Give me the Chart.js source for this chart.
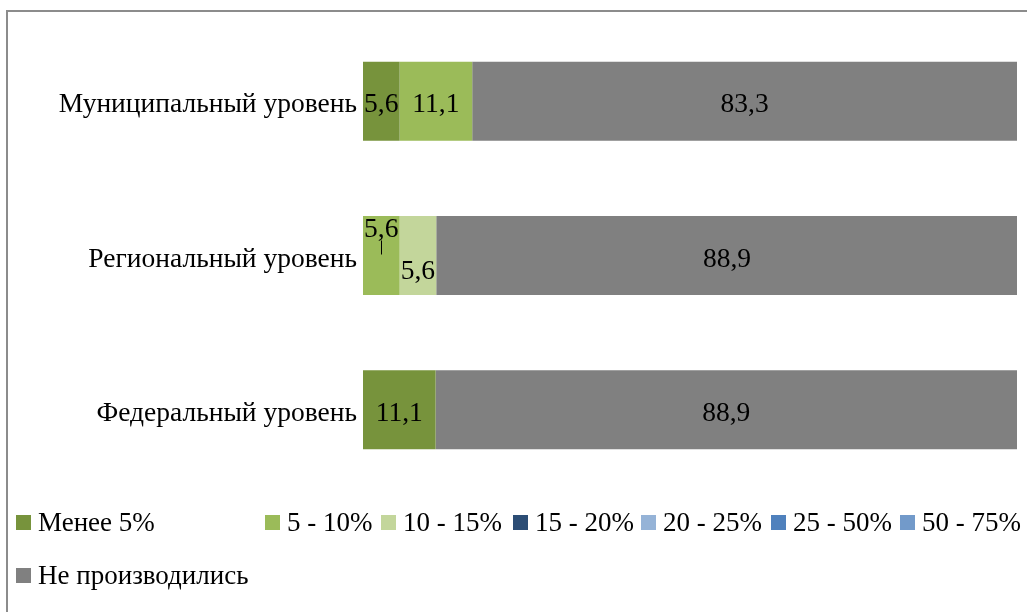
<!DOCTYPE html>
<html>
<head>
<meta charset="utf-8">
<script src="https://cdn.jsdelivr.net/npm/chart.js@4.4.1/dist/chart.umd.min.js"></script>
<style>
    html, body { margin: 0; padding: 0; background: #fff; }
    #wrap { position: relative; width: 1027px; height: 612px; overflow: hidden; }
    #frame { position: absolute; left: 6px; top: 10px; width: 1100px; height: 700px;
             border-left: 2px solid #8c8c8c; border-top: 2px solid #8c8c8c; }
    canvas { position: absolute; left: 0; top: 0; }
    .lg { position: absolute; font-family: "Liberation Serif", serif; font-size: 27px; color: #000;
          white-space: nowrap; line-height: 30px; }
    .lg i { position: absolute; left: -22px; top: 8px; width: 15px; height: 15px; }
</style>
</head>
<body>
<div id="wrap">
    <div id="frame"></div>
    <canvas id="chart" width="1027" height="612"></canvas>
    <div id="legend"></div>
</div>
<script>
// Данные диаграммы
const categories = ['Муниципальный уровень', 'Региональный уровень', 'Федеральный уровень'];
const seriesNames = ['Менее 5%', '5 - 10%', '10 - 15%', '15 - 20%', '20 - 25%', '25 - 50%', '50 - 75%', 'Не производились'];
const less5 = [5.6, 0, 11.1];
const p5_10 = [11.1, 5.6, 0];
const p10_15 = [0, 5.6, 0];
const p15_20 = [0, 0, 0];
const p20_25 = [0, 0, 0];
const p25_50 = [0, 0, 0];
const p50_75 = [0, 0, 0];
const notDone = [83.3, 88.9, 88.9];
const seriesValues = [less5, p5_10, p10_15, p15_20, p20_25, p25_50, p50_75, notDone];
const colors = ['#77933C', '#9BBB59', '#C3D69B', '#2C4D75', '#95B3D7', '#4F81BD', '#729ACA', '#808080'];

// Смещения подписей (как в исходной диаграмме Excel)
const labelShift = { '1-1': { dy: -30, leader: true }, '2-1': { dy: 12 } };

const FONT = '"Liberation Serif", serif';

const dataLabels = {
    id: 'dataLabels',
    afterDatasetsDraw(chart) {
        const ctx = chart.ctx;
        ctx.save();
        ctx.font = '27.5px ' + FONT;
        ctx.fillStyle = '#000';
        ctx.textAlign = 'center';
        ctx.textBaseline = 'middle';
        chart.data.datasets.forEach((ds, di) => {
            const meta = chart.getDatasetMeta(di);
            meta.data.forEach((bar, i) => {
                const v = ds.data[i];
                if (!v) return;
                const x = (bar.x + bar.base) / 2;
                const s = labelShift[di + '-' + i] || { dy: 0 };
                const y = bar.y + 4 + s.dy;
                ctx.fillText(v.toFixed(1).replace('.', ','), x, y);
                if (s.leader) {
                    ctx.strokeStyle = '#000';
                    ctx.lineWidth = 1;
                    ctx.beginPath();
                    ctx.moveTo(Math.round(x) + 0.5, y + 11);
                    ctx.lineTo(Math.round(x) + 0.5, bar.y - 1);
                    ctx.stroke();
                }
            });
        });
        ctx.restore();
    }
};

new Chart(document.getElementById('chart'), {
    type: 'bar',
    data: {
        labels: categories,
        datasets: seriesValues.map((vals, k) => ({
            label: seriesNames[k],
            data: vals,
            backgroundColor: colors[k],
            borderWidth: 0,
            categoryPercentage: 1,
            barPercentage: 0.512
        }))
    },
    options: {
        indexAxis: 'y',
        responsive: false,
        animation: false,
        devicePixelRatio: 1,
        layout: { padding: { top: 24, right: 10, bottom: 125, left: 0 } },
        plugins: { legend: { display: false }, tooltip: { enabled: false } },
        scales: {
            x: { stacked: true, min: 0, max: 100, display: false },
            y: {
                stacked: true,
                grid: { display: false, drawTicks: false },
                border: { display: false },
                ticks: { color: '#000', font: { family: FONT, size: 27.5 }, padding: 6, labelOffset: 4 },
                afterFit(scale) { scale.width = 363; }
            }
        }
    },
    plugins: [dataLabels]
});

// Легенда (расположение как в исходнике)
const legendPos = [[38, 507], [287, 507], [403, 507], [535, 507], [663, 507], [793, 507], [922, 507], [38, 560]];
const legend = document.getElementById('legend');
seriesNames.forEach((name, k) => {
    const d = document.createElement('div');
    d.className = 'lg';
    d.style.left = legendPos[k][0] + 'px';
    d.style.top = legendPos[k][1] + 'px';
    d.innerHTML = '<i style="background:' + colors[k] + '"></i>' + name;
    legend.appendChild(d);
});
</script>
</body>
</html>
